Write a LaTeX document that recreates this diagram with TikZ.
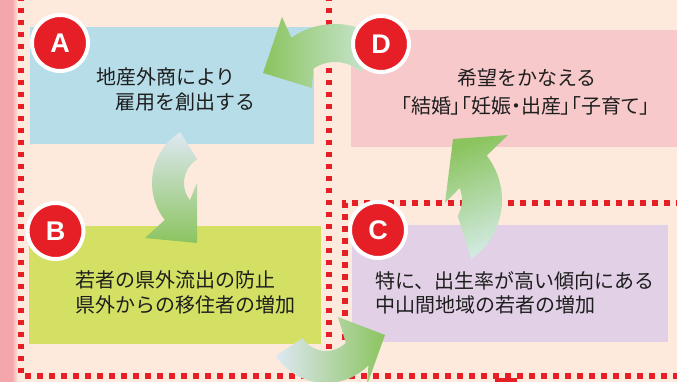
\documentclass[tikz,border=0pt]{standalone}
\usepackage{fontspec}
\setmainfont{Liberation Sans}
\newfontfamily\jpfont{Noto Sans CJK JP}
\newfontfamily\jppfont[RawFeature=+palt]{Noto Sans CJK JP}
\usetikzlibrary{calc}
\definecolor{bg}{RGB}{253,234,220}
\definecolor{stripe}{RGB}{243,167,172}
\definecolor{dotred}{RGB}{230,30,37}
\definecolor{boxA}{RGB}{183,221,232}
\definecolor{boxB}{RGB}{212,224,99}
\definecolor{boxC}{RGB}{225,208,230}
\definecolor{boxD}{RGB}{248,201,203}
\definecolor{arrgreen}{RGB}{139,196,95}
\definecolor{arrmint}{RGB}{210,234,226}
\definecolor{arrblue}{RGB}{222,232,243}
\definecolor{txt}{RGB}{30,30,30}
\definecolor{badgered}{RGB}{230,30,37}
\tikzset{
  dotline/.style={dotred, line width=5.5pt, dash pattern=on 5.5pt off 6.5pt},
  panel/.style={inner sep=0pt, outer sep=0pt, draw=none},
  badge/.style={circle, fill=badgered, draw=white, line width=4pt, minimum size=56pt, inner sep=0pt,
    text=white, font=\bfseries\fontsize{27}{27}\selectfont},
  lbl/.style={inner sep=0pt, text=txt, font=\jpfont\fontsize{20}{24}\selectfont},
}
\begin{document}
\begin{tikzpicture}[x=1pt,y=1pt]
\useasboundingbox (0,0) rectangle (677,382);
\fill[bg] (0,0) rectangle (677,382);
% left pink stripe
\fill[stripe] (0,0) rectangle (12,382);
\shade[left color=stripe, right color=bg] (12,0) rectangle (18,382);
% dotted frames
\draw[dotline] (21,386) -- (21,6) -- (677,6);
\draw[dotline] (329,386) -- (329,6);
\draw[dotline] (345,6) -- (345,179) -- (677,179);
\fill[dotred] (495,0) rectangle (517,4);
% panels
\node[panel, fill=boxA, minimum width=284pt, minimum height=117pt] (boxA) at (172,296.5) {};
\node[panel, fill=boxD, minimum width=326pt, minimum height=117pt] (boxD) at (514,293.5) {};
\node[panel, fill=boxB, minimum width=292pt, minimum height=118pt] (boxB) at (175,97) {};
\node[panel, fill=boxC, minimum width=316pt, minimum height=117pt] (boxC) at (510,98.5) {};
% curved arrows
% D -> A
\shade[left color=arrgreen, right color=arrmint]
  ($(335,282)+(48:76)$) arc[start angle=48, end angle=125, radius=76]
  -- (282,365) -- (263,309) -- (312,294)
  -- ($(335,282)+(125:38)$) arc[start angle=125, end angle=48, radius=38] -- cycle;
% A -> B
\shade[top color=arrblue, bottom color=arrgreen]
  ($(212,199)+(122:60)$) arc[start angle=122, end angle=218, radius=60]
  -- (145,144) -- (197,139) -- (197,199)
  -- ($(212,199)+(218:28)$) arc[start angle=218, end angle=122, radius=28] -- cycle;
% B -> C
\shade[left color=arrblue, right color=arrgreen]
  ($(326,59)+(213:60)$) arc[start angle=213, end angle=315, radius=60]
  -- (367,-3) -- (385,47) -- (338,65)
  -- ($(326,59)+(315:28)$) arc[start angle=315, end angle=213, radius=28] -- cycle;
% C -> D
\shade[top color=arrgreen, bottom color=arrmint, shading angle=20]
  ($(430,182)+(-55:72)$) arc[start angle=-55, end angle=38, radius=72]
  -- (508,247) -- (453,243) -- (445,179)
  -- ($(430,182)+(22:32)$) arc[start angle=22, end angle=-30, radius=32] -- cycle;
% badges
\node[badge] (cA) at (60,339) {A};
\node[badge] (cD) at (381,338) {D};
\node[badge] (cB) at (55.5,151) {B};
\node[badge] (cC) at (378,152) {C};
% texts
\node[lbl] (tA1) at (166,305) {地産外商により};
\node[lbl] (tA2) at (185,280) {雇用を創出する};
\node[lbl] (tD1) at (527,304) {希望をかなえる};
\node[lbl, font=\jppfont\fontsize{20}{24}\selectfont] (tD2) at (525.5,276) {「結婚」「妊娠・出産」「子育て」};
\node[lbl] (tB1) at (175,102) {若者の県外流出の防止};
\node[lbl] (tB2) at (185,77) {県外からの移住者の増加};
\node[lbl, anchor=west] (tC1) at (375,101) {特に、出生率が高い傾向にある};
\node[lbl, anchor=west] (tC2) at (375,77) {中山間地域の若者の増加};
\end{tikzpicture}
\end{document}
